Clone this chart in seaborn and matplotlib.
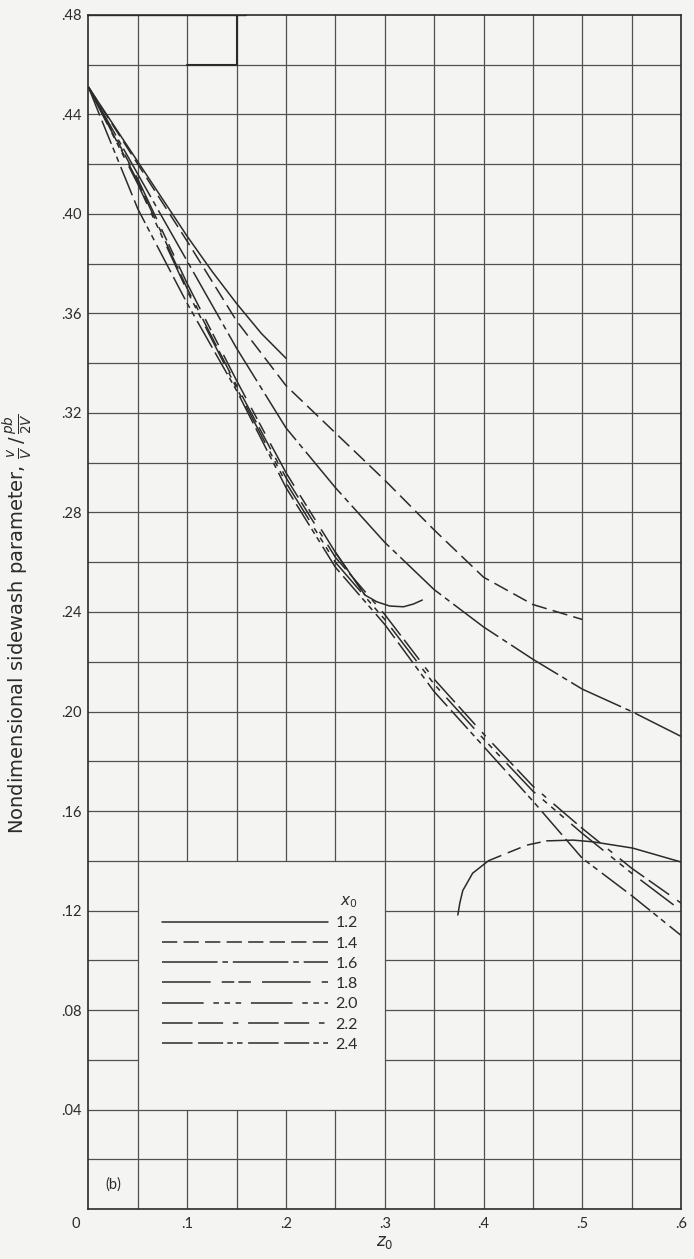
import matplotlib
matplotlib.use("Agg")
import matplotlib.pyplot as plt
import matplotlib.transforms as mtransforms
import seaborn as sns

# sidewash curves, z0 vs v/V / (pb/2V)
z_12 = [0, 0.025, 0.05, 0.075, 0.1, 0.125, 0.15, 0.175, 0.2]
v_12 = [0.451, 0.436, 0.421, 0.406, 0.391, 0.377, 0.364, 0.352, 0.342]

z_14 = [0, 0.05, 0.1, 0.15, 0.2, 0.25, 0.3, 0.35, 0.4, 0.45, 0.5]
v_14 = [0.451, 0.420, 0.389, 0.357, 0.331, 0.312, 0.293, 0.273, 0.254, 0.243, 0.237]

z_16 = [0, 0.05, 0.1, 0.15, 0.2, 0.25, 0.3, 0.35, 0.4, 0.45, 0.5, 0.55, 0.6]
v_16 = [0.451, 0.416, 0.381, 0.346, 0.314, 0.290, 0.268, 0.249, 0.234, 0.221, 0.209, 0.200, 0.190]

z_18 = [0, 0.05, 0.1, 0.15, 0.2, 0.25, 0.28, 0.292, 0.305, 0.319, 0.329, 0.338]
v_18 = [0.451, 0.414, 0.372, 0.333, 0.296, 0.264, 0.2468, 0.2441, 0.2424, 0.2421, 0.2432, 0.2448]

z_20 = [0, 0.05, 0.1, 0.15, 0.2, 0.25, 0.3, 0.35, 0.4, 0.45, 0.5, 0.55, 0.6]
v_20 = [0.451, 0.412, 0.369, 0.330, 0.292, 0.260, 0.237, 0.211, 0.189, 0.168, 0.151, 0.135, 0.120]

z_22 = [0, 0.05, 0.1, 0.15, 0.2, 0.25, 0.3, 0.35, 0.4, 0.45, 0.5, 0.55, 0.6]
v_22 = [0.451, 0.413, 0.370, 0.331, 0.294, 0.262, 0.239, 0.213, 0.191, 0.170, 0.153, 0.137, 0.123]

z_24 = [0, 0.01, 0.05, 0.1, 0.15, 0.2, 0.25, 0.3, 0.35, 0.4, 0.45, 0.5, 0.55, 0.6]
v_24 = [0.451, 0.441, 0.402, 0.364, 0.329, 0.290, 0.258, 0.235, 0.208, 0.186, 0.164, 0.141, 0.126, 0.110]

# the loose arc at lower right
z_arc = [0.374, 0.376, 0.379, 0.389, 0.405, 0.424, 0.444, 0.464, 0.491, 0.511, 0.551, 0.6]
v_arc = [0.1182, 0.123, 0.128, 0.135, 0.140, 0.1431, 0.1463, 0.148, 0.1483, 0.1476, 0.1451, 0.1395]

x0_labels = ["1.2", "1.4", "1.6", "1.8", "2.0", "2.2", "2.4"]
x_ticks = [0, 0.1, 0.2, 0.3, 0.4, 0.5, 0.6]
y_ticks = [0.04, 0.08, 0.12, 0.16, 0.20, 0.24, 0.28, 0.32, 0.36, 0.40, 0.44, 0.48]

ink = "#2b2b2b"
paper = "#f4f4f2"

sns.set_style("white")
plt.rcParams["font.family"] = ["Lato", "DejaVu Sans"]
plt.rcParams["mathtext.fontset"] = "dejavusans"
plt.rcParams["lines.scale_dashes"] = False

fig = plt.figure(figsize=(6.94, 12.59), dpi=100, facecolor=paper)
ax = fig.add_axes([0.1275, 0.0397, 0.8538, 0.9484])
ax.set_facecolor(paper)
ax.set_xlim(0, 0.6)
ax.set_ylim(0, 0.48)

# grid, with the blank box where the key sits
gcol = "#505050"
for i in range(1, 12):
    x = round(0.05 * i, 3)
    if 0.05 < x < 0.3:
        ax.axvline(x, 0, 0.04 / 0.48, color=gcol, lw=0.9, zorder=1)
        ax.axvline(x, 0.14 / 0.48, 1, color=gcol, lw=0.9, zorder=1)
    else:
        ax.axvline(x, color=gcol, lw=0.9, zorder=1)
for j in range(1, 24):
    y = round(0.02 * j, 3)
    if 0.04 < y < 0.14:
        ax.axhline(y, 0, 0.05 / 0.6, color=gcol, lw=0.9, zorder=1)
        ax.axhline(y, 0.3 / 0.6, 1, color=gcol, lw=0.9, zorder=1)
    else:
        ax.axhline(y, color=gcol, lw=0.9, zorder=1)
# heavier pen strokes in the top left corner of the sheet
ax.axhline(0.48, 0, 0.16 / 0.6, color=ink, lw=1.7, zorder=2)
ax.axvline(0.15, 0.46 / 0.48, 1, color=ink, lw=1.5, zorder=2)
ax.axhline(0.46, 0.1 / 0.6, 0.15 / 0.6, color=ink, lw=1.5, zorder=2)

for s in ax.spines.values():
    s.set_color(ink)
    s.set_linewidth(1.2)

styles = {
    "1.2": "-",
    "1.4": (0, (11, 4.5)),
    "1.6": (0, (40, 3.5, 4, 3.5)),
    "1.8": (0, (35, 8, 9, 3, 9, 8)),
    "2.0": (0, (30, 7, 4, 4, 4, 4, 4, 7)),
    "2.2": (0, (22, 4, 18, 7, 4, 7)),
    "2.4": (0, (22, 4, 18, 3, 4, 3, 4, 4)),
}
curves = {
    "1.2": (z_12, v_12),
    "1.4": (z_14, v_14),
    "1.6": (z_16, v_16),
    "1.8": (z_18[:7], v_18[:7]),
    "2.0": (z_20, v_20),
    "2.2": (z_22, v_22),
    "2.4": (z_24, v_24),
}

handles = []
for lab in x0_labels:
    z, v = curves[lab]
    sns.lineplot(x=z, y=v, ax=ax, color=ink, lw=1.1, linestyle=styles[lab],
                 sort=False, estimator=None, zorder=3)
    handles.append(ax.lines[-1])

# the hooked end of the 1.8 curve is drawn solid
sns.lineplot(x=z_18[5:], y=v_18[5:], ax=ax, color=ink, lw=1.1, sort=False, estimator=None, zorder=3)

# arc: solid, dashed middle, solid
sns.lineplot(x=z_arc[:5], y=v_arc[:5], ax=ax, color=ink, lw=1.1, sort=False, estimator=None, zorder=3)
sns.lineplot(x=z_arc[4:8], y=v_arc[4:8], ax=ax, color=ink, lw=1.1, linestyle=(0, (10, 5)),
             sort=False, estimator=None, zorder=3)
sns.lineplot(x=z_arc[7:], y=v_arc[7:], ax=ax, color=ink, lw=1.1, sort=False, estimator=None, zorder=3)

leg = ax.legend(handles, x0_labels, title="$x_0$", loc="upper left",
                bbox_to_anchor=(0.0744, 0.1265), bbox_transform=ax.transData,
                frameon=False, handlelength=10.4, handletextpad=0.45, labelspacing=0.38,
                borderpad=0, borderaxespad=0, alignment="right", fontsize=11.5, title_fontsize=11)
for t in leg.get_texts():
    t.set_color(ink)
leg.get_title().set_color(ink)

ax.set_xticks(x_ticks)
ax.set_xticklabels(["0" if t == 0 else f"{t:.1f}".lstrip("0") for t in x_ticks])
ax.set_yticks(y_ticks)
ax.set_yticklabels([f"{t:.2f}".lstrip("0") for t in y_ticks])
ax.tick_params(length=0, labelsize=10.5, colors=ink)
ax.tick_params(axis="x", pad=6)
ax.tick_params(axis="y", pad=5)
zero = ax.get_xticklabels()[0]
zero.set_transform(zero.get_transform() + mtransforms.ScaledTranslation(-0.13, 0, fig.dpi_scale_trans))

ax.set_xlabel("$z_0$", fontsize=12, color=ink)
ax.xaxis.set_label_coords(0.5, -0.021)
ax.set_ylabel(r"Nondimensional sidewash parameter, $\frac{v}{V}\,/\,\frac{pb}{2V}$",
              fontsize=14, color=ink, family=["DejaVu Sans"])
ax.yaxis.set_label_coords(-0.09, 0.49)

ax.text(0.025, 0.0097, "(b)", fontsize=10.5, color=ink, ha="center", va="center")

fig.savefig("out.png", dpi=100, facecolor=paper)
